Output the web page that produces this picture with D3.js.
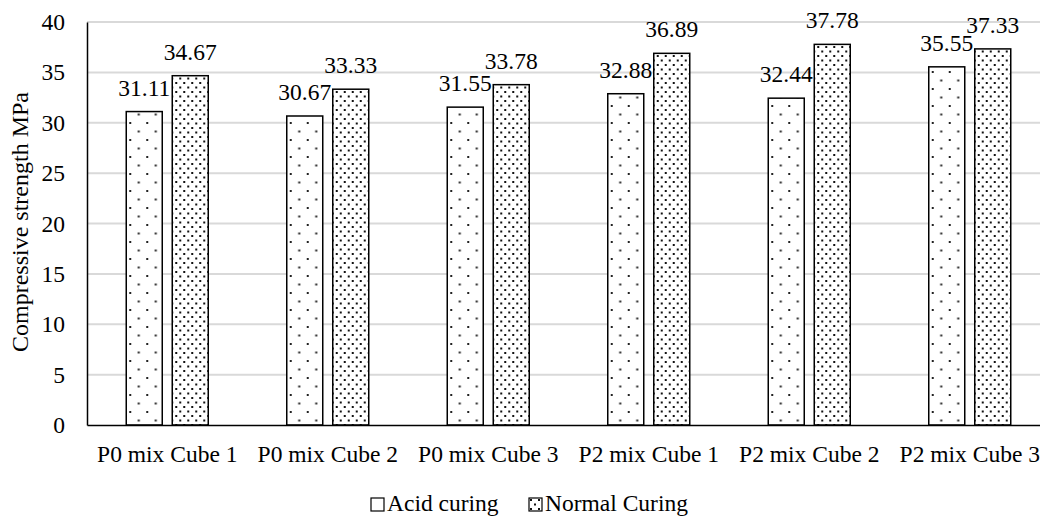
<!DOCTYPE html>
<html>
<head>
<meta charset="utf-8">
<script src="https://cdn.jsdelivr.net/npm/d3@7"></script>
<style>
  body { margin: 0; background: #fff; }
  svg text { font-family: "Liberation Serif", "Times New Roman", serif; }
</style>
</head>
<body>
<div id="chart"></div>
<script>
const categories = ["P0 mix Cube 1", "P0 mix Cube 2", "P0 mix Cube 3", "P2 mix Cube 1", "P2 mix Cube 2", "P2 mix Cube 3"];
const seriesNames = ["Acid curing", "Normal Curing"];
const acidValues = [31.11, 30.67, 31.55, 32.88, 32.44, 35.55];
const normalValues = [34.67, 33.33, 33.78, 36.89, 37.78, 37.33];
const yTicks = [0, 5, 10, 15, 20, 25, 30, 35, 40];

const width = 1040, height = 518;
const fontSize = 23.5;
const serif = "'Liberation Serif', 'Times New Roman', serif";

const svg = d3.select("#chart").append("svg")
    .attr("width", width)
    .attr("height", height)
    .attr("font-family", serif);

// patterns for the two series
const defs = svg.append("defs");
const sparse = defs.append("pattern")
    .attr("id", "dotsSparse")
    .attr("patternUnits", "userSpaceOnUse")
    .attr("width", 17).attr("height", 17);
sparse.append("rect").attr("width", 17).attr("height", 17).attr("fill", "#fff");
sparse.append("rect").attr("x", 3).attr("y", 3).attr("width", 2).attr("height", 2).attr("fill", "#222");
sparse.append("rect").attr("x", 11.5).attr("y", 11.5).attr("width", 2).attr("height", 2).attr("fill", "#222");

const dense = defs.append("pattern")
    .attr("id", "dotsDense")
    .attr("patternUnits", "userSpaceOnUse")
    .attr("width", 8).attr("height", 9);
dense.append("rect").attr("width", 8).attr("height", 9).attr("fill", "#fff");
dense.append("rect").attr("x", 1).attr("y", 1).attr("width", 2).attr("height", 2).attr("fill", "#111");
dense.append("rect").attr("x", 5).attr("y", 5.5).attr("width", 2).attr("height", 2).attr("fill", "#111");

const fills = ["url(#dotsSparse)", "url(#dotsDense)"];

const y = d3.scaleLinear().domain([0, 40]).range([425, 22]);
const x0 = d3.scaleBand().domain(categories).range([87, 1050]).paddingInner(0).paddingOuter(0);
const pairWidth = 82;
const x1 = d3.scaleBand().domain(seriesNames).range([0, pairWidth]).paddingInner(10 / 46).paddingOuter(0);

// gridlines
svg.append("g")
    .selectAll("line")
    .data(yTicks.filter(d => d > 0))
    .join("line")
    .attr("x1", 87).attr("x2", 1050)
    .attr("y1", d => y(d)).attr("y2", d => y(d))
    .attr("stroke", "#d9d9d9")
    .attr("stroke-width", 2);

// bars
const rows = categories.map((c, i) => ({ cat: c, values: [acidValues[i], normalValues[i]] }));

const groups = svg.append("g")
    .selectAll("g")
    .data(rows)
    .join("g")
    .attr("transform", d => `translate(${x0(d.cat) + (x0.bandwidth() - pairWidth) / 2},0)`);

groups.selectAll("rect")
    .data(d => d.values.map((v, j) => ({ name: seriesNames[j], value: v, j: j })))
    .join("rect")
    .attr("x", d => x1(d.name))
    .attr("y", d => y(d.value))
    .attr("width", x1.bandwidth())
    .attr("height", d => y(0) - y(d.value))
    .attr("fill", d => fills[d.j])
    .attr("stroke", "#000")
    .attr("stroke-width", 1.5);

groups.selectAll("text")
    .data(d => d.values.map((v, j) => ({ name: seriesNames[j], value: v })))
    .join("text")
    .attr("x", d => x1(d.name) + x1.bandwidth() / 2)
    .attr("y", d => y(d.value) - 16)
    .attr("text-anchor", "middle")
    .attr("font-family", serif)
    .style("font-size", fontSize + "px")
    .attr("fill", "#000")
    .text(d => d.value.toFixed(2));

// y axis
const yAxis = svg.append("g")
    .attr("transform", "translate(87,0)")
    .call(d3.axisLeft(y).tickValues(yTicks).tickSize(0).tickPadding(22))
    .attr("font-family", serif);
yAxis.select(".domain").attr("stroke", "#000").attr("stroke-width", 1.5);
yAxis.selectAll("text")
    .style("font-size", fontSize + "px")
    .attr("fill", "#000");

// x axis
const xAxis = svg.append("g")
    .attr("transform", `translate(0,${y(0)})`)
    .call(d3.axisBottom(x0).tickSize(0).tickPadding(20))
    .attr("font-family", serif);
xAxis.select(".domain").attr("stroke", "#000").attr("stroke-width", 1.5);
xAxis.selectAll("text")
    .style("font-size", fontSize + "px")
    .attr("fill", "#000");

// y title
svg.append("text")
    .attr("transform", "translate(28,222) rotate(-90)")
    .attr("text-anchor", "middle")
    .style("font-size", "24px")
    .attr("fill", "#000")
    .text("Compressive strength MPa");

// legend
const legendX = [371, 529];
const legend = svg.append("g")
    .selectAll("g")
    .data(seriesNames)
    .join("g")
    .attr("transform", (d, i) => `translate(${legendX[i]},498)`);
legend.append("rect")
    .attr("width", 13).attr("height", 13)
    .attr("fill", (d, i) => i === 0 ? "#fff" : fills[1])
    .attr("stroke", "#000")
    .attr("stroke-width", 1.2);
legend.append("text")
    .attr("x", 16)
    .attr("y", 13)
    .style("font-size", fontSize + "px")
    .attr("fill", "#000")
    .text(d => d);
</script>
</body>
</html>
